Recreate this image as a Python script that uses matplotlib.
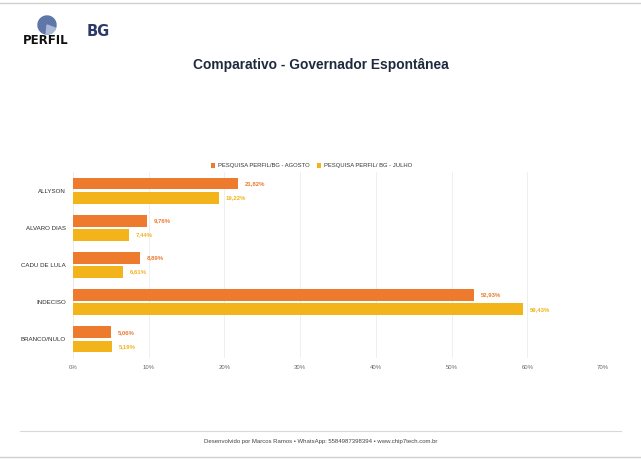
import numpy as np
import matplotlib.pyplot as plt
from matplotlib.patches import Wedge
from matplotlib.ticker import FuncFormatter

categorias = ['ALLYSON', 'ALVARO DIAS', 'CADU DE LULA', 'INDECISO', 'BRANCO/NULO']
agosto = [21.82, 9.76, 8.89, 52.93, 5.06]
julho = [19.22, 7.44, 6.61, 59.43, 5.19]
series = ['PESQUISA PERFIL/BG - AGOSTO', 'PESQUISA PERFIL/ BG - JULHO']
x_ticks = [0, 10, 20, 30, 40, 50, 60, 70]

cor_agosto = '#EE7A2E'
cor_julho = '#F2B31B'

W, H = 641, 459
fig = plt.figure(figsize=(W / 100, H / 100), dpi=100)
fig.patch.set_facecolor('white')

# linhas de moldura (topo e rodape)
fig.add_artist(plt.Line2D([0, 1], [1 - 3 / H, 1 - 3 / H], color='#cfcfcf', lw=1))
fig.add_artist(plt.Line2D([20 / W, 621 / W], [1 - 431 / H, 1 - 431 / H], color='#d8d8d8', lw=0.8))
fig.add_artist(plt.Line2D([0, 1], [1 - 457 / H, 1 - 457 / H], color='#cfcfcf', lw=1))

# logos aproximados
logo = fig.add_axes([0, 0, 1, 1], zorder=-1)
logo.set_xlim(0, W)
logo.set_ylim(H, 0)
logo.axis('off')
logo.add_patch(Wedge((47, 25), 9, 0, 360, color='#5E76A8'))
logo.add_patch(Wedge((47, 25), 9, 20, 95, color='#A9B8D4'))
logo.text(46, 40, 'PERFIL', ha='center', va='center', fontsize=8.5,
          fontweight='bold', color='#111111', family='DejaVu Sans')
logo.text(98, 32, 'BG', ha='center', va='center', fontsize=10.5,
          fontweight='bold', color='#2B3A6B', family='DejaVu Sans')

fig.text(0.5, 1 - 65 / H, 'Comparativo - Governador Espontânea', ha='center', va='center',
         fontsize=9.9, fontweight='bold', color='#1E2A3E', family='Liberation Sans')

fig.text(0.5, 1 - 441 / H,
         'Desenvolvido por Marcos Ramos • WhatsApp: 5584987398394 • www.chip7tech.com.br',
         ha='center', va='center', fontsize=4.3, color='#444444', family='Liberation Sans')

ax = fig.add_axes([73 / W, 1 - 358 / H, 530 / W, 186 / H])
y = np.arange(len(categorias))
h = 0.32
off = 0.19
b1 = ax.barh(y - off, agosto, height=h, color=cor_agosto, label=series[0], zorder=3)
b2 = ax.barh(y + off, julho, height=h, color=cor_julho, label=series[1], zorder=3)

for barras, vals, cor in [(b1, agosto, cor_agosto), (b2, julho, cor_julho)]:
    for bar, v in zip(barras, vals):
        ax.text(v + 0.9, bar.get_y() + bar.get_height() / 2,
                f'{v:.2f}%'.replace('.', ','), va='center', ha='left',
                fontsize=4.3, fontweight='bold', color=cor, family='Liberation Sans')

ax.set_xlim(0, 70)
ax.set_ylim(len(categorias) - 0.5, -0.5)
ax.set_xticks(x_ticks)
ax.xaxis.set_major_formatter(FuncFormatter(lambda v, p: f'{v:.0f}%'))
ax.set_yticks(y)
ax.set_yticklabels(categorias)
ax.tick_params(axis='y', length=0, pad=5, labelsize=4.4, labelcolor='#2a2a2a')
ax.tick_params(axis='x', length=0, pad=5, labelsize=4.3, labelcolor='#666666')
for lbl in ax.get_yticklabels() + ax.get_xticklabels():
    lbl.set_family('Liberation Sans')
ax.grid(axis='x', color='#ececec', lw=0.6, zorder=0)
for s in ax.spines.values():
    s.set_visible(False)
ax.axvline(0, color='#e6e6e6', lw=0.6, zorder=1)

leg = ax.legend(loc='lower center', bbox_to_anchor=(0.45, 1.0), ncol=2, frameon=False,
                prop={'family': 'Liberation Sans', 'size': 4.2},
                handlelength=0.8, handleheight=0.8, columnspacing=1.2,
                handletextpad=0.5, borderaxespad=0.2)
for t in leg.get_texts():
    t.set_color('#333333')

fig.savefig('out.png', dpi=100)
